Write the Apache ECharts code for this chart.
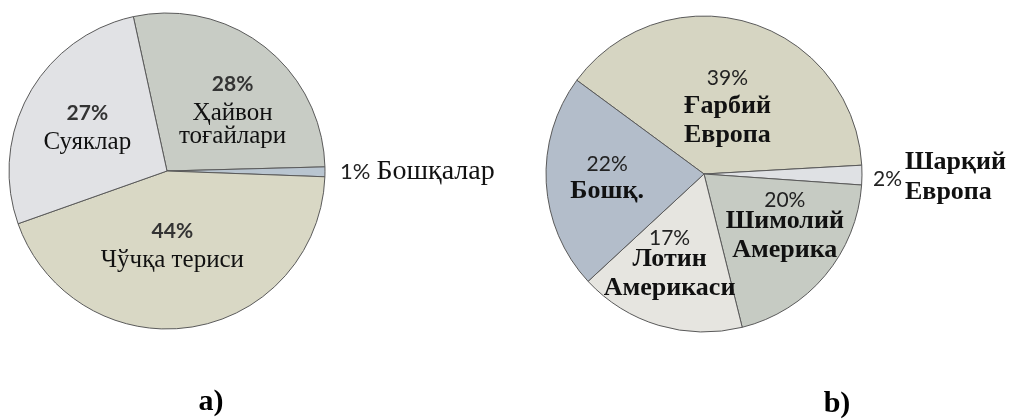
<!DOCTYPE html>
<html>
<head>
<meta charset="utf-8">
<script src="https://cdn.jsdelivr.net/npm/echarts@6/dist/echarts.min.js"></script>
<style>
  html, body { margin: 0; padding: 0; background: #fff; }
  #main { width: 1012px; height: 420px; }
</style>
</head>
<body>
<div id="main"></div>
<script>
// a) хом ашё
var namesA = ['Ҳайвон\nтоғайлари', 'Бошқалар', 'Чўчқа териси', 'Суяклар'];
var valuesA = [28, 1, 44, 27];
// b) минтақалар
var namesB = ['Ғарбий\nЕвропа', 'Шарқий\nЕвропа', 'Шимолий\nАмерика', 'Лотин\nАмерикаси', 'Бошқ.'];
var valuesB = [39, 2, 20, 17, 22];

var colorsA = ['#c8ccc5', '#b9c5d0', '#d9d8c5', '#e1e2e5'];
var colorsB = ['#d6d5c2', '#dfe1e4', '#c6cbc3', '#e6e5e0', '#b3bdca'];
// ички ёзувлар силжиши (null = ташқарида)
var offsA = [[15, 1], null, [-7, -9], [-8, -6]];
var offsB = [[0, 12], null, [18, 3], [-11, 15], [-15, 0]];

var pctFont = 'Lato, "Open Sans", sans-serif';
var nameFont = '"Liberation Serif", "DejaVu Serif", serif';

function buildData(names, values, colors, offs) {
    return values.map(function (v, i) {
        var item = { name: names[i], value: v, itemStyle: { color: colors[i] } };
        if (offs[i]) {
            item.label = { position: 'inside', offset: offs[i] };
        } else {
            item.label = { position: 'outside', align: 'left' };
        }
        return item;
    });
}

var richA = {
    p: { fontFamily: pctFont, fontSize: 21, fontWeight: 'bold', color: '#333', lineHeight: 34 },
    n: { fontFamily: nameFont, fontSize: 25, color: '#111', lineHeight: 23 },
    o: { fontFamily: nameFont, fontSize: 28, color: '#111' },
    op: { fontFamily: pctFont, fontSize: 22, color: '#222', padding: [0, 6, 0, 0] }
};
var richB = {
    p: { fontFamily: pctFont, fontSize: 21, color: '#222', lineHeight: 26 },
    pt: { fontFamily: pctFont, fontSize: 21, color: '#222', lineHeight: 12 },
    n: { fontFamily: nameFont, fontSize: 26, fontWeight: 'bold', color: '#111', lineHeight: 29 },
    n1: { fontFamily: nameFont, fontSize: 26, fontWeight: 'bold', color: '#111', lineHeight: 20 },
    n3: { fontFamily: nameFont, fontSize: 26, fontWeight: 'bold', color: '#111', lineHeight: 12 },
    sp1: { width: 32, lineHeight: 20 },
    sp3: { width: 32, lineHeight: 12 },
    op: { fontFamily: pctFont, fontSize: 21, color: '#222', lineHeight: 14 }
};

function lines(name, style) {
    return name.split('\n').map(function (s) { return '{' + style + '|' + s + '}'; }).join('\n');
}
function fmtA(p) {
    if (p.dataIndex === 1) return '{op|' + p.value + '%}{o|' + p.name + '}';
    return '{p|' + p.value + '%}\n' + lines(p.name, 'n');
}
function fmtB(p) {
    if (p.dataIndex === 1) {
        var parts = p.name.split('\n');
        return '{sp1|}{n1|' + parts[0] + '}\n{op|' + p.value + '%}\n{sp3|}{n3|' + parts[1] + '}';
    }
    var ps = (p.dataIndex === 2 || p.dataIndex === 3) ? 'pt' : 'p';
    return '{' + ps + '|' + p.value + '%}\n' + lines(p.name, 'n');
}

var myChart = echarts.init(document.getElementById('main'));
var option = {
    backgroundColor: '#fff',
    animation: false,
    title: [
        { text: 'a)', left: 206, top: 382, textAlign: 'center',
          textStyle: { fontFamily: nameFont, fontSize: 30, fontWeight: 'bold', color: '#000' } },
        { text: 'b)', left: 832, top: 384, textAlign: 'center',
          textStyle: { fontFamily: nameFont, fontSize: 30, fontWeight: 'bold', color: '#000' } }
    ],
    series: [
        {
            type: 'pie',
            center: [167, 171],
            radius: 158,
            startAngle: 102.3,
            clockwise: true,
            avoidLabelOverlap: false,
            labelLayout: { hideOverlap: false },
            itemStyle: { borderColor: '#5a5a5a', borderWidth: 1 },
            label: { formatter: fmtA, rich: richA, align: 'center' },
            labelLine: { show: false, length: 10, length2: 0 },
            emphasis: { disabled: true },
            data: buildData(namesA, valuesA, colorsA, offsA)
        },
        {
            type: 'pie',
            center: [704, 174],
            radius: 158,
            startAngle: 143.6,
            clockwise: true,
            avoidLabelOverlap: false,
            labelLayout: { hideOverlap: false },
            itemStyle: { borderColor: '#5a5a5a', borderWidth: 1 },
            label: { formatter: fmtB, rich: richB, align: 'center' },
            labelLine: { show: false, length: 6, length2: 0 },
            emphasis: { disabled: true },
            data: buildData(namesB, valuesB, colorsB, offsB)
        }
    ]
};
myChart.setOption(option);
</script>
</body>
</html>
